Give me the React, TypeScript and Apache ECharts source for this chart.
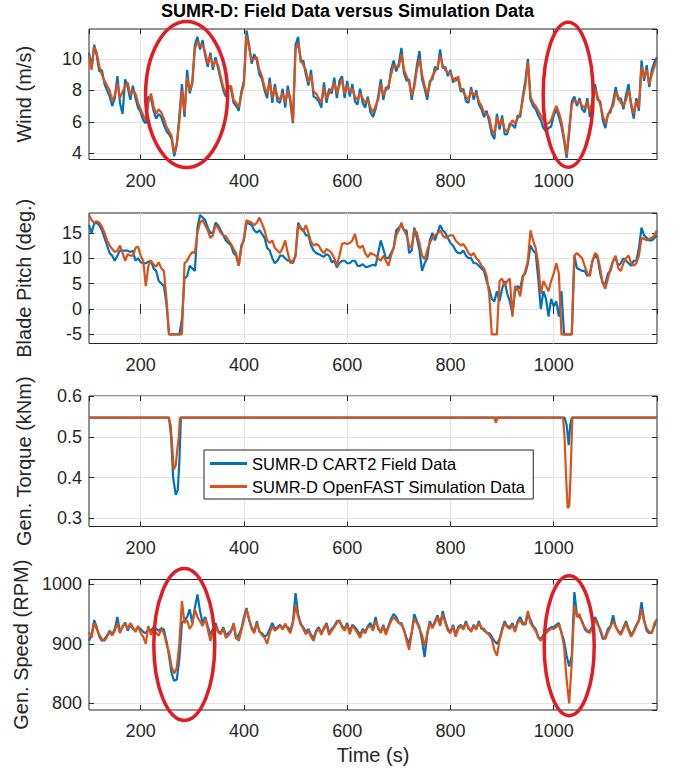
import React, { useEffect, useRef } from "react";
import * as echarts from "echarts";

// Shared sampling grid for wind / pitch / speed (seconds)
const TIME_START = 100;
const TIME_STEP = 5;

const FIELD_NAME = "SUMR-D CART2 Field Data";
const SIM_NAME = "SUMR-D OpenFAST Simulation Data";
const TITLE = "SUMR-D: Field Data versus Simulation Data";
const Y_TITLES = ["Wind (m/s)", "Blade Pitch (deg.)", "Gen. Torque (kNm)", "Gen. Speed (RPM)"];
const X_TITLE = "Time (s)";

const windField = [
  10.4, 9.4, 10.9, 10.2, 9.2, 9.3, 8.4, 8.0, 7.6, 7.0,
  7.5, 8.9, 7.2, 6.5, 8.7, 8.2, 7.4, 8.3, 7.5, 6.9,
  6.6, 6.1, 5.9, 7.6, 7.5, 6.7, 6.2, 6.5, 6.3, 5.8,
  5.4, 5.2, 4.9, 3.8, 4.5, 6.4, 8.4, 6.3, 9.3, 7.8,
  8.4, 10.9, 11.4, 10.6, 11.2, 10.2, 9.5, 10.4, 9.3, 10.1,
  9.4, 8.7, 8.0, 7.6, 8.3, 8.1, 7.2, 7.0, 6.7, 7.9,
  8.6, 11.8, 10.9, 9.7, 10.3, 9.9, 9.0, 8.7, 8.0, 7.5,
  8.8, 7.2, 8.4, 7.3, 7.2, 8.1, 6.9, 8.3, 7.2, 5.9,
  10.9, 11.4, 9.8, 9.9, 9.0, 8.3, 9.3, 7.6, 7.5, 7.3,
  6.9, 8.5, 7.2, 8.1, 7.8, 8.8, 7.5, 8.6, 8.9, 7.5,
  8.6, 7.6, 8.4, 7.3, 7.1, 8.1, 7.2, 6.9, 7.6, 6.6,
  6.3, 6.8, 7.6, 8.7, 7.4, 8.2, 8.1, 9.3, 9.9, 9.2,
  9.7, 10.7, 9.1, 8.6, 8.7, 7.4, 8.4, 9.6, 10.5, 8.7,
  8.1, 7.4, 8.6, 8.7, 9.5, 9.3, 10.6, 9.4, 9.5, 8.9,
  9.3, 8.5, 8.8, 8.7, 7.9, 8.1, 7.3, 7.2, 8.2, 7.4,
  8.0, 7.1, 6.8, 6.3, 6.7, 6.0, 5.2, 4.9, 6.5, 5.5,
  6.4, 5.2, 5.2, 5.9, 5.8, 5.6, 6.4, 6.3, 7.6, 8.6,
  10.0, 7.4, 7.0, 6.8, 6.4, 6.1, 5.6, 5.4, 5.6, 5.7,
  6.4, 6.8, 6.3, 5.7, 4.8, 3.7, 5.3, 7.3, 7.6, 7.0,
  7.5, 6.8, 6.6, 7.5, 6.3, 7.4, 8.4, 7.4, 7.3, 6.1,
  5.6, 6.5, 6.6, 7.3, 8.2, 7.4, 7.5, 6.8, 7.7, 8.4,
  7.0, 6.2, 7.5, 6.7, 9.9, 8.6, 9.6, 8.2, 9.3, 9.8,
  10.1,
];

const windSim = [
  10.2, 9.3, 10.8, 10.4, 9.5, 9.0, 8.6, 8.3, 8.0, 7.3,
  7.7, 8.4, 7.5, 7.9, 8.3, 8.5, 7.7, 8.0, 7.8, 7.2,
  6.8, 6.4, 6.1, 7.2, 7.8, 7.0, 6.5, 6.8, 6.6, 6.2,
  5.7, 5.4, 5.1, 4.0, 4.6, 6.0, 8.0, 6.6, 8.8, 8.0,
  8.5, 10.6, 11.1, 10.8, 10.9, 10.4, 9.7, 10.2, 9.5, 9.9,
  9.6, 8.9, 8.2, 7.8, 8.1, 8.3, 7.4, 7.2, 6.9, 7.7,
  8.4, 11.5, 10.7, 9.9, 10.0, 10.1, 9.3, 8.9, 8.2, 7.8,
  8.5, 7.5, 8.2, 7.6, 7.4, 7.8, 7.2, 8.0, 7.5, 6.0,
  10.6, 11.0, 10.0, 9.6, 9.3, 8.5, 9.0, 7.9, 7.8, 7.5,
  7.2, 8.2, 7.5, 7.8, 8.1, 8.5, 7.8, 8.3, 8.7, 7.8,
  8.3, 7.9, 8.1, 7.6, 7.4, 7.8, 7.5, 7.2, 7.4, 6.9,
  6.6, 7.0, 7.4, 8.4, 7.7, 8.0, 8.3, 9.0, 9.6, 9.5,
  9.5, 10.3, 9.3, 8.9, 8.5, 7.7, 8.2, 9.3, 10.0, 9.0,
  8.3, 7.7, 8.4, 8.9, 9.2, 9.5, 10.2, 9.6, 9.3, 9.1,
  9.1, 8.7, 8.6, 8.9, 8.1, 7.9, 7.6, 7.4, 8.0, 7.7,
  7.8, 7.3, 7.0, 6.6, 6.5, 6.3, 5.5, 5.2, 6.3, 5.8,
  6.2, 5.5, 5.4, 5.7, 6.1, 5.9, 6.2, 6.5, 7.4, 8.3,
  9.8, 7.6, 7.2, 7.0, 6.7, 6.4, 6.1, 5.9, 5.9, 6.1,
  6.6, 7.0, 6.6, 6.0, 5.0, 3.9, 5.6, 7.1, 7.4, 7.2,
  7.3, 7.0, 6.9, 7.3, 6.6, 7.2, 8.1, 7.6, 7.1, 6.4,
  5.9, 6.4, 6.8, 7.0, 7.9, 7.6, 7.2, 7.0, 7.4, 8.0,
  7.2, 6.5, 7.3, 6.9, 9.5, 8.8, 9.3, 8.4, 9.0, 9.5,
  9.9,
];

const pitchField = [
  16.5, 15.0, 16.8, 17.0, 16.5, 15.5, 14.0, 12.5, 11.0, 10.5,
  9.5, 10.5, 11.5, 11.5, 11.5, 11.5, 11.2, 11.5, 9.5, 10.0,
  9.2, 9.0, 9.0, 9.3, 9.5, 8.0, 7.5, 5.5, 5.0, 4.5,
  1.0, -5, -5, -5, -5, -5, -2, 6.0, 6.5, 8.5,
  8.0, 7.5, 16.0, 18.5, 18.0, 17.5, 16.0, 15.0, 15.0, 17.0,
  16.5, 15.5, 14.5, 13.5, 13.0, 12.5, 11.0, 10.5, 8.5, 12.5,
  13.5, 17.0, 16.8, 16.5, 15.5, 15.0, 15.5, 14.8, 14.0, 12.0,
  11.5, 10.0, 9.0, 9.5, 10.5, 10.5, 10.0, 9.5, 9.5, 9.0,
  10.5, 17.0, 16.0, 15.5, 14.5, 14.5, 12.5, 11.5, 11.0, 10.8,
  10.5, 10.3, 10.8, 10.5, 9.2, 9.5, 8.2, 9.0, 9.5, 9.5,
  9.0, 9.0, 9.5, 9.5, 8.5, 8.5, 8.8, 8.3, 8.3, 8.5,
  8.7, 8.5, 11.0, 13.5, 11.8, 10.0, 10.0, 11.0, 12.0, 15.5,
  16.0, 16.5, 15.5, 15.5, 11.0, 11.5, 16.0, 14.0, 11.5, 7.5,
  9.0, 10.0, 13.5, 15.0, 13.5, 15.0, 16.5, 15.5, 15.0, 14.0,
  13.0, 12.5, 11.5, 11.0, 11.0, 11.5, 10.5, 10.0, 10.0, 9.0,
  9.0, 8.5, 8.0, 7.5, 5.5, 4.0, 2.0, 1.5, 3.5, 1.5,
  4.0, 5.5, 3.0, 1.5, -1.0, 3.5, 4.5, 4.0, 6.5, 7.0,
  9.0, 12.5, 11.5, 11.0, 6.0, 0.0, 3.5, 2.0, -1.5, 2.0,
  0.5, 1.5, -1.5, 3.5, -5, -5, -5, -5, 10.5, 8.0,
  7.8, 7.5, 7.5, 6.5, 7.0, 9.5, 10.5, 10.0, 7.0, 5.0,
  5.0, 7.0, 7.5, 9.5, 10.0, 8.5, 9.0, 10.0, 9.5, 9.0,
  8.5, 9.5, 9.5, 12.0, 16.0, 14.5, 14.0, 13.5, 13.5, 14.0,
  14.5,
];

const pitchSim = [
  18.5, 17.5, 17.0, 17.3, 17.0, 16.2, 15.0, 13.5, 12.5, 11.8,
  11.2, 11.5, 12.5, 11.0, 9.5, 10.8, 10.5, 10.5, 12.0, 12.3,
  10.5, 9.5, 4.5, 8.5, 9.5, 8.8, 8.3, 9.2, 8.0, 7.5,
  2.0, -5, -5, -5, -5, -5, -5, 9.0, 9.5, 10.5,
  11.2, 11.0, 15.0, 17.0, 17.5, 16.5, 15.5, 14.0, 14.5, 16.5,
  16.0, 15.0, 14.5, 14.3, 13.5, 12.8, 11.8, 11.0, 8.5, 12.0,
  14.0, 17.5, 17.2, 17.0, 16.5, 17.0, 18.0, 16.8, 15.5, 13.5,
  13.0, 13.5, 12.0, 11.5, 11.0, 12.0, 13.5, 11.0, 9.0, 9.5,
  10.5, 16.5, 15.8, 15.3, 16.5, 15.0, 13.2, 12.5, 12.8, 12.5,
  11.5, 11.0, 11.8, 11.5, 11.0, 10.0, 8.5, 10.5, 12.8, 13.0,
  12.8, 13.0, 13.5, 14.8, 12.5, 12.0, 12.5, 11.0, 10.2, 11.0,
  10.8, 10.5, 10.0, 9.5, 10.5, 9.5, 8.5, 10.5, 12.0, 14.5,
  15.5, 17.0, 15.5, 14.5, 12.5, 12.0, 15.5, 15.0, 13.0, 10.5,
  9.8, 11.5, 13.0, 14.0, 14.5, 14.8, 15.5, 14.5, 14.0, 14.3,
  14.5, 14.5, 13.5, 13.0, 12.5, 12.8, 12.0, 11.0, 10.5, 11.0,
  10.0, 9.5, 8.5, 8.0, 6.5, 3.0, -5, -5, -5, 5.5,
  6.0, 4.5, 5.5, 6.0, -1.5, 4.5, 4.0, 2.5, 6.0, 7.5,
  9.5, 15.5, 13.5, 12.0, 9.0, 3.0, 5.5, 4.5, 3.5, 5.5,
  7.0, 9.0, 7.0, -5, -5, -5, -5, -5, 10.5, 11.0,
  10.5, 10.0, 8.5, 7.0, 6.5, 9.5, 11.0, 10.5, 8.0, 5.0,
  4.0, 6.0, 8.0, 9.5, 10.5, 8.0, 7.5, 9.0, 10.0, 10.5,
  9.0, 8.5, 9.0, 10.5, 14.0, 13.8, 13.5, 13.8, 14.0, 14.5,
  15.5,
];

// Torque is flat with a few short dips: sampled at its own break points
const torqueFieldTime = [100, 255, 259, 263, 268, 272, 275, 278, 1021, 1025, 1029, 1032, 1035, 1200];
const torqueField = [0.548, 0.548, 0.5, 0.4, 0.358, 0.37, 0.44, 0.548, 0.548, 0.53, 0.48, 0.53, 0.548, 0.548];
const torqueSimTime = [100, 254, 258, 261, 264, 268, 271, 274, 276, 885, 888, 891, 1018, 1021, 1024, 1027, 1030, 1033, 1036, 1200];
const torqueSim = [0.548, 0.548, 0.53, 0.48, 0.42, 0.43, 0.47, 0.5, 0.548, 0.548, 0.535, 0.548, 0.548, 0.5, 0.4, 0.325, 0.33, 0.42, 0.548, 0.548];

const speedField = [
  905, 915, 940, 928, 912, 905, 908, 914, 922, 916,
  925, 945, 920, 928, 936, 922, 932, 925, 922, 928,
  925, 920, 918, 925, 922, 928, 925, 922, 926, 924,
  905, 880, 850, 838, 840, 875, 935, 940, 945, 958,
  935, 960, 983, 955, 935, 945, 930, 915, 925, 935,
  922, 918, 928, 915, 918, 922, 932, 908, 915, 925,
  945, 960, 940, 928, 920, 938, 920, 918, 912, 915,
  925, 935, 925, 928, 932, 926, 930, 928, 922, 938,
  985, 950, 932, 928, 920, 925, 915, 910, 922, 928,
  918, 925, 935, 918, 925, 930, 938, 938, 930, 925,
  935, 920, 932, 928, 922, 915, 925, 920, 930, 935,
  925, 945, 925, 920, 932, 918, 930, 942, 950, 945,
  935, 935, 922, 910, 900, 920, 950, 938, 928, 905,
  878, 915, 938, 928, 938, 948, 932, 955, 938, 925,
  920, 932, 915, 928, 932, 926, 938, 925, 922, 932,
  926, 938, 925, 925, 918, 918, 912, 905, 900, 908,
  925, 938, 930, 928, 935, 922, 938, 945, 935, 932,
  950, 940, 930, 925, 912, 908, 915, 920, 925, 928,
  928, 932, 935, 918, 905, 880, 862, 880, 987, 948,
  945, 938, 925, 920, 922, 930, 945, 935, 922, 908,
  912, 925, 930, 948, 928, 922, 918, 928, 938, 925,
  915, 922, 932, 940, 970, 940, 922, 918, 920, 930,
  942,
];

const speedSim = [
  920, 910, 935, 925, 915, 908, 905, 912, 920, 914,
  922, 935, 918, 930, 934, 925, 935, 928, 920, 930,
  918, 912, 900, 930, 915, 926, 918, 914, 925, 918,
  900, 886, 862, 850, 860, 900, 972, 935, 940, 925,
  932, 958, 945, 938, 930, 942, 925, 905, 922, 930,
  920, 916, 926, 910, 914, 920, 935, 912, 905, 922,
  940, 958, 942, 925, 918, 935, 922, 915, 910, 900,
  918, 930, 922, 926, 930, 924, 934, 925, 918, 935,
  965, 945, 935, 925, 916, 922, 912, 905, 920, 925,
  915, 928, 932, 915, 922, 928, 935, 940, 928, 922,
  932, 916, 930, 925, 918, 910, 922, 918, 928, 930,
  922, 938, 928, 918, 930, 915, 928, 938, 945, 940,
  935, 932, 925, 905, 890, 918, 942, 935, 925, 915,
  895, 918, 935, 926, 935, 945, 930, 950, 935, 922,
  918, 930, 912, 925, 930, 924, 935, 928, 920, 930,
  924, 935, 928, 922, 920, 915, 908, 890, 880, 905,
  922, 935, 928, 925, 932, 920, 935, 940, 932, 935,
  955, 935, 928, 922, 910, 905, 912, 918, 922, 926,
  925, 928, 932, 920, 895, 840, 800, 870, 965, 945,
  950, 935, 928, 922, 918, 928, 940, 932, 925, 912,
  908, 920, 928, 938, 930, 920, 915, 925, 935, 922,
  912, 920, 930, 938, 958, 938, 926, 920, 918, 935,
  940,
];

// Axis extents of each panel
const X_MIN = 100;
const X_MAX = 1200;
const Y_RANGES = [
  { min: 3.6, max: 11.9, split: 4 },
  { min: -6.8, max: 18.9, split: 5 },
  { min: 0.28, max: 0.601, split: 3 },
  { min: 789, max: 1008, split: 2 },
];

// Highlight ellipses: [panel, time, value, rx(px), ry(px)]
const HIGHLIGHTS: [number, number, number, number, number][] = [
  [0, 289, 7.74, 41, 73],
  [0, 1028, 7.72, 25, 72.5],
  [3, 284.5, 899, 30.5, 76],
  [3, 1030, 897, 25, 70],
];

const BLUE = "#0072BD";
const ORANGE = "#D95319";
const AXIS = "#262626";
const GRID = "#e3e3e3";
const FONT = "Liberation Sans, Arial, Helvetica, sans-serif";

const toPairs = (vals: number[]) => vals.map((v, i) => [TIME_START + i * TIME_STEP, v]);
const zipPairs = (ts: number[], vals: number[]) => vals.map((v, i) => [ts[i], v]);
const plainLabel = (v: number) => String(Math.round(v * 1000) / 1000);

export default function App() {
  const ref = useRef<HTMLDivElement>(null);

  useEffect(() => {
    if (!ref.current) return;
    const chart = echarts.init(ref.current, null, { renderer: "svg" });

    const gridTops = [29, 213, 396, 579.5];
    const grids = gridTops.map((top) => ({
      left: 89,
      right: 21,
      top,
      height: 130.5,
      show: true,
      borderColor: AXIS,
      borderWidth: 1,
      backgroundColor: "#fff",
      containLabel: false,
    }));

    const xAxes: any[] = [];
    const yAxes: any[] = [];
    for (let i = 0; i < 4; i++) {
      xAxes.push({
        gridIndex: i,
        type: "value",
        position: "bottom",
        min: X_MIN,
        max: X_MAX,
        splitNumber: 5,
        name: i === 3 ? X_TITLE : "",
        nameLocation: "middle",
        nameGap: 35,
        nameTextStyle: { fontSize: 20, color: AXIS, fontFamily: FONT },
        axisLine: { show: false },
        axisTick: { show: true, inside: true, length: 5, lineStyle: { color: AXIS } },
        axisLabel: {
          color: AXIS,
          fontSize: 18,
          fontFamily: FONT,
          margin: 12,
          showMinLabel: false,
          showMaxLabel: false,
          formatter: plainLabel,
        },
        splitLine: { show: true, showMinLine: false, showMaxLine: false, lineStyle: { color: GRID, width: 1 } },
      });
      xAxes.push({
        gridIndex: i,
        type: "value",
        position: "top",
        min: X_MIN,
        max: X_MAX,
        splitNumber: 5,
        axisLine: { show: false },
        axisTick: { show: true, inside: true, length: 5, lineStyle: { color: AXIS } },
        axisLabel: { show: false },
        splitLine: { show: false },
      });
      const r = Y_RANGES[i];
      yAxes.push({
        gridIndex: i,
        type: "value",
        position: "left",
        min: r.min,
        max: r.max,
        splitNumber: r.split,
        name: Y_TITLES[i],
        nameLocation: "middle",
        nameGap: 55,
        nameTextStyle: { fontSize: 20, color: AXIS, fontFamily: FONT },
        axisLine: { show: false },
        axisTick: { show: true, inside: true, length: 5, lineStyle: { color: AXIS } },
        axisLabel: {
          color: AXIS,
          fontSize: 18,
          fontFamily: FONT,
          margin: 7,
          showMinLabel: false,
          showMaxLabel: false,
          formatter: plainLabel,
        },
        splitLine: { show: true, showMinLine: false, showMaxLine: false, lineStyle: { color: GRID, width: 1 } },
      });
      yAxes.push({
        gridIndex: i,
        type: "value",
        position: "right",
        min: r.min,
        max: r.max,
        splitNumber: r.split,
        axisLine: { show: false },
        axisTick: { show: true, inside: true, length: 5, lineStyle: { color: AXIS } },
        axisLabel: { show: false },
        splitLine: { show: false },
      });
    }

    const fieldData = [toPairs(windField), toPairs(pitchField), zipPairs(torqueFieldTime, torqueField), toPairs(speedField)];
    const simData = [toPairs(windSim), toPairs(pitchSim), zipPairs(torqueSimTime, torqueSim), toPairs(speedSim)];

    const series: any[] = [];
    for (let i = 0; i < 4; i++) {
      series.push({
        name: FIELD_NAME,
        type: "line",
        xAxisIndex: i * 2,
        yAxisIndex: i * 2,
        data: fieldData[i],
        symbol: "none",
        showSymbol: false,
        lineStyle: { color: BLUE, width: 2.2 },
        itemStyle: { color: BLUE },
        z: 2,
      });
      series.push({
        name: SIM_NAME,
        type: "line",
        xAxisIndex: i * 2,
        yAxisIndex: i * 2,
        data: simData[i],
        symbol: "none",
        showSymbol: false,
        lineStyle: { color: ORANGE, width: 2.2 },
        itemStyle: { color: ORANGE },
        z: 3,
      });
    }

    chart.setOption({
      animation: false,
      backgroundColor: "#fff",
      textStyle: { fontFamily: FONT },
      title: {
        text: TITLE,
        left: 161,
        top: 2,
        padding: 0,
        textStyle: { fontSize: 18, fontWeight: "bold", color: "#000", fontFamily: FONT },
      },
      legend: {
        data: [FIELD_NAME, SIM_NAME],
        orient: "vertical",
        left: 204,
        top: 450,
        padding: [5, 8, 4, 6],
        itemGap: 6,
        itemWidth: 37,
        itemHeight: 3,
        icon: "rect",
        backgroundColor: "#fff",
        borderColor: AXIS,
        borderWidth: 1,
        borderRadius: 0,
        selectedMode: false,
        textStyle: { fontSize: 16.5, color: "#000", fontFamily: FONT },
        z: 10,
      },
      grid: grids,
      xAxis: xAxes,
      yAxis: yAxes,
      series,
    });

    const graphics = HIGHLIGHTS.map(([panel, t, v, rx, ry]) => {
      const p = chart.convertToPixel({ gridIndex: panel } as any, [t, v]) as number[];
      return {
        type: "ellipse",
        shape: { cx: p[0], cy: p[1], rx, ry },
        style: { fill: "none", stroke: "#e31b23", lineWidth: 3.5 },
        z: 20,
        silent: true,
      };
    });
    chart.setOption({ graphic: graphics });

    return () => chart.dispose();
  }, []);

  return (
    <div
      ref={ref}
      style={{ position: "fixed", left: 0, top: 0, width: 678, height: 772, background: "#fff" }}
    />
  );
}
